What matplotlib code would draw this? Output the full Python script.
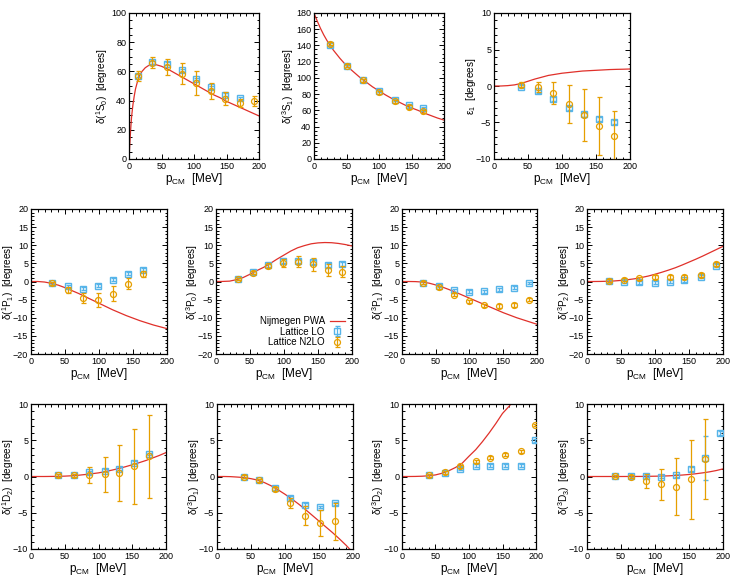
import matplotlib
matplotlib.use("Agg")
import matplotlib.pyplot as plt
from matplotlib.ticker import MultipleLocator

plt.rcParams["font.family"] = ["Liberation Sans", "DejaVu Sans"]
plt.rcParams["mathtext.default"] = "regular"

RED = "#e0302a"
BLUE = "#56b4e9"
ORANGE = "#e69f00"

# ---- 1S0
s10_cx = [0, 1, 2, 3, 4, 6, 8, 10, 13, 16, 20, 25, 30, 35, 40, 50, 60, 70, 80, 90,
          100, 110, 120, 130, 140, 150, 160, 170, 180, 190, 200]
s10_cy = [0, 8, 16, 23, 29, 37, 43, 48, 53, 57, 60, 62.5, 64, 64.7, 64.8, 63.5, 61.5,
          59, 56.5, 54, 51.5, 49, 46.5, 44, 42, 39.5, 37.5, 35.5, 33.5, 31.5, 29.5]
s10_lo_x = [14, 35, 58, 81, 103, 126, 148, 170]
s10_lo = [57, 66.4, 65.3, 60.7, 54.8, 49, 44, 41.5]
s10_lo_err = [1, 1, 1, 1, 1, 1, 1, 1]
s10_n2_x = [14, 35, 58, 81, 103, 126, 148, 170, 192]
s10_n2 = [56.6, 66, 63, 58.5, 52, 46.3, 41.3, 38.4, 39.5]
s10_n2_err = [3.5, 4, 5.5, 7, 8, 5.5, 4.5, 3, 3.5]

# ---- 3S1
s31_cx = [0, 5, 10, 15, 20, 25, 30, 40, 50, 60, 70, 80, 90, 100, 110, 120, 130, 140,
          150, 160, 170, 180, 190, 200]
s31_cy = [180, 170, 161, 153, 146, 140, 134, 124, 115, 108, 101, 95, 89, 84, 79, 74.5,
          70.5, 66.5, 63, 60, 56.5, 53.5, 50.5, 48]
s31_x = [25, 51, 76, 100, 124, 146, 168]
s31_lo = [141, 115, 97, 84, 73, 66, 63]
s31_lo_err = [1.5, 1.5, 1.5, 1.5, 1.5, 1.5, 1.5]
s31_n2 = [142, 115, 97, 82, 71, 64, 59]
s31_n2_err = [2, 2, 2, 2, 2, 2, 2]

# ---- eps1
e1_cx = [0, 10, 20, 30, 40, 50, 60, 70, 80, 90, 100, 110, 120, 130, 140, 150, 160,
         170, 180, 190, 200]
e1_cy = [0, 0, 0.05, 0.15, 0.35, 0.65, 0.95, 1.2, 1.45, 1.6, 1.75, 1.85, 1.95, 2.05,
         2.1, 2.15, 2.2, 2.25, 2.28, 2.3, 2.33]
e1_x = [40, 65, 87, 110, 133, 155, 176]
e1_lo = [-0.1, -0.7, -1.8, -3.0, -3.9, -4.5, -4.9]
e1_lo_err = [0.2, 0.2, 0.3, 0.3, 0.3, 0.3, 0.3]
e1_n2 = [0.2, -0.1, -1.0, -2.5, -4.0, -5.45, -6.8]
e1_n2_err = [0.3, 0.7, 1.5, 2.6, 3.6, 3.95, 3.4]

# ---- 1P1
p11_cx = [0, 10, 20, 30, 40, 50, 60, 70, 80, 90, 100, 110, 120, 130, 140, 150, 160,
          170, 180, 190, 200]
p11_cy = [0, 0, -0.15, -0.5, -1.0, -1.7, -2.5, -3.3, -4.2, -5.1, -6.0, -6.9, -7.8,
          -8.6, -9.4, -10.1, -10.8, -11.4, -12.0, -12.5, -13.0]
p11_x = [31, 54, 77, 99, 121, 143, 165]
p11_lo = [-0.4, -1.3, -2.0, -1.2, 0.5, 2.2, 3.3]
p11_lo_err = [0.4, 0.4, 0.4, 0.4, 0.4, 0.4, 0.4]
p11_n2 = [-0.5, -2.3, -4.5, -5.1, -3.4, -0.6, 2.0]
p11_n2_err = [0.4, 0.8, 1.3, 2.0, 2.1, 1.6, 0.8]

# ---- 3P0
p30_cx = [0, 10, 20, 30, 40, 50, 60, 70, 80, 90, 100, 110, 120, 130, 140, 150, 160,
          170, 180, 190, 200]
p30_cy = [0, 0.02, 0.1, 0.5, 1.1, 2.0, 3.0, 3.9, 5.0, 6.2, 7.3, 8.4, 9.3, 9.9, 10.4,
          10.65, 10.75, 10.7, 10.5, 10.2, 9.8]
p30_x = [32, 54, 76, 99, 121, 142, 164, 186]
p30_lo = [0.8, 2.5, 4.5, 5.6, 5.6, 5.3, 4.6, 4.8]
p30_lo_err = [0.4, 0.4, 0.4, 0.5, 0.5, 0.5, 0.5, 0.5]
p30_n2 = [0.7, 2.4, 4.4, 5.1, 5.5, 4.7, 3.1, 2.7]
p30_n2_err = [0.3, 0.4, 0.6, 1.0, 1.6, 1.7, 1.6, 1.5]

# ---- 3P1
p31_cx = [0, 10, 20, 30, 40, 50, 60, 70, 80, 90, 100, 110, 120, 130, 140, 150, 160,
          170, 180, 190, 200]
p31_cy = [0, 0, -0.03, -0.15, -0.45, -0.95, -1.55, -2.25, -3.0, -3.8, -4.6, -5.4,
          -6.2, -7.0, -7.8, -8.6, -9.3, -10.0, -10.6, -11.2, -11.8]
p31_x = [31, 55, 77, 100, 122, 144, 166, 188]
p31_lo = [-0.3, -1.2, -2.4, -2.8, -2.7, -2.1, -1.7, -0.4]
p31_lo_err = [0.4, 0.4, 0.4, 0.4, 0.4, 0.4, 0.4, 0.4]
p31_n2 = [-0.3, -1.6, -3.6, -5.5, -6.6, -6.8, -6.4, -5.0]
p31_n2_err = [0.4, 0.4, 0.5, 0.5, 0.5, 0.5, 0.5, 0.5]

# ---- 3P2
p32_cx = [0, 10, 20, 30, 40, 50, 60, 70, 80, 90, 100, 110, 120, 130, 140, 150, 160,
          170, 180, 190, 200]
p32_cy = [0, 0, 0.02, 0.07, 0.15, 0.3, 0.5, 0.75, 1.1, 1.5, 2.0, 2.55, 3.15, 3.8,
          4.55, 5.35, 6.15, 7.0, 7.9, 8.8, 9.7]
p32_x = [32, 55, 77, 100, 122, 143, 167, 189]
p32_lo = [0.1, 0.0, -0.2, -0.3, -0.1, 0.4, 1.3, 4.3]
p32_lo_err = [0.4, 0.4, 0.4, 0.4, 0.4, 0.4, 0.4, 0.4]
p32_n2 = [0.2, 0.5, 0.9, 1.3, 1.2, 1.2, 1.8, 4.8]
p32_n2_err = [0.4, 0.4, 0.4, 0.5, 0.5, 0.5, 0.5, 0.5]

# ---- 1D2
d12_cx = [0, 20, 40, 50, 60, 70, 80, 90, 100, 110, 120, 130, 140, 150, 160, 170, 180,
          190, 200]
d12_cy = [0, 0, 0.02, 0.05, 0.1, 0.17, 0.27, 0.38, 0.5, 0.68, 0.88, 1.1, 1.35, 1.62,
          1.9, 2.2, 2.55, 2.9, 3.3]
d12_x = [40, 64, 86, 109, 131, 153, 175]
d12_lo = [0.15, 0.2, 0.6, 0.8, 1.1, 1.9, 3.1]
d12_lo_err = [0.2, 0.2, 0.2, 0.2, 0.2, 0.2, 0.2]
d12_n2 = [0.15, 0.2, 0.2, 0.3, 0.5, 1.4, 2.8]
d12_n2_err = [0.15, 0.2, 1.1, 2.4, 3.9, 5.2, 5.7]

# ---- 3D1
d31_cx = [0, 10, 20, 30, 40, 50, 60, 70, 80, 90, 100, 110, 120, 130, 140, 150, 160,
          170, 180, 190, 195]
d31_cy = [0, 0, -0.02, -0.08, -0.15, -0.3, -0.5, -0.85, -1.3, -1.85, -2.45, -3.1,
          -3.8, -4.55, -5.35, -6.15, -6.95, -7.75, -8.6, -9.5, -10.0]
d31_x = [39, 62, 85, 108, 130, 152, 174]
d31_lo = [0.0, -0.5, -1.6, -2.9, -3.9, -4.2, -3.7]
d31_lo_err = [0.2, 0.2, 0.2, 0.2, 0.2, 0.2, 0.2]
d31_n2 = [0.0, -0.55, -1.7, -3.6, -5.4, -6.4, -6.2]
d31_n2_err = [0.15, 0.2, 0.3, 0.7, 1.3, 1.8, 2.5]

# ---- 3D2
d32_cx = [0, 10, 20, 30, 40, 50, 60, 70, 80, 90, 100, 110, 120, 130, 140, 150, 160, 165]
d32_cy = [0, 0, 0.01, 0.04, 0.1, 0.22, 0.45, 0.8, 1.25, 1.85, 2.8, 3.7, 4.8, 6.0, 7.3,
          8.7, 9.7, 10.3]
d32_x = [40, 64, 87, 110, 132, 154, 177, 199]
d32_lo = [0.15, 0.55, 1.1, 1.5, 1.5, 1.5, 1.5, 5.0]
d32_lo_err = [0.2, 0.2, 0.2, 0.2, 0.2, 0.2, 0.2, 0.2]
d32_n2 = [0.15, 0.6, 1.4, 2.1, 2.6, 3.0, 3.5, 7.1]
d32_n2_err = [0.2, 0.2, 0.2, 0.2, 0.2, 0.2, 0.2, 0.2]

# ---- 3D3
d33_cx = [0, 50, 80, 100, 110, 120, 130, 140, 150, 160, 170, 180, 190, 200]
d33_cy = [0, 0, 0.01, 0.04, 0.06, 0.09, 0.14, 0.2, 0.28, 0.38, 0.5, 0.64, 0.82, 1.05]
d33_lo_x = [41, 64, 87, 109, 131, 153, 174, 196]
d33_lo = [0.1, 0.05, 0.05, -0.05, 0.2, 1.0, 2.5, 6.0]
d33_lo_err = [0.15, 0.15, 0.15, 0.15, 0.2, 0.3, 3.05, 0.3]
d33_n2_x = [41, 64, 87, 109, 131, 153, 174]
d33_n2 = [0.1, 0.0, -0.6, -1.1, -1.4, -0.4, 2.4]
d33_n2_err = [0.15, 0.15, 1.0, 2.2, 3.9, 5.4, 5.5]

# (label, curve, LO, N2LO, ylim, ymajor, yminor, pixel box left/right/top/bottom)
panels = [
    (r"$\delta$($^1$S$_0$)  [degrees]", (s10_cx, s10_cy), (s10_lo_x, s10_lo, s10_lo_err),
     (s10_n2_x, s10_n2, s10_n2_err), (0, 100), 20, 5, (129, 259, 13, 159)),
    (r"$\delta$($^3$S$_1$)  [degrees]", (s31_cx, s31_cy), (s31_x, s31_lo, s31_lo_err),
     (s31_x, s31_n2, s31_n2_err), (0, 180), 20, 5, (314, 444, 13, 159)),
    (r"$\varepsilon_1$  [degrees]", (e1_cx, e1_cy), (e1_x, e1_lo, e1_lo_err),
     (e1_x, e1_n2, e1_n2_err), (-10, 10), 5, 1, (494, 630, 13, 159)),
    (r"$\delta$($^1$P$_1$)  [degrees]", (p11_cx, p11_cy), (p11_x, p11_lo, p11_lo_err),
     (p11_x, p11_n2, p11_n2_err), (-20, 20), 5, 1, (31, 167, 209, 354)),
    (r"$\delta$($^3$P$_0$)  [degrees]", (p30_cx, p30_cy), (p30_x, p30_lo, p30_lo_err),
     (p30_x, p30_n2, p30_n2_err), (-20, 20), 5, 1, (216, 352, 209, 354)),
    (r"$\delta$($^3$P$_1$)  [degrees]", (p31_cx, p31_cy), (p31_x, p31_lo, p31_lo_err),
     (p31_x, p31_n2, p31_n2_err), (-20, 20), 5, 1, (402, 537, 209, 354)),
    (r"$\delta$($^3$P$_2$)  [degrees]", (p32_cx, p32_cy), (p32_x, p32_lo, p32_lo_err),
     (p32_x, p32_n2, p32_n2_err), (-20, 20), 5, 1, (587, 723, 209, 354)),
    (r"$\delta$($^1$D$_2$)  [degrees]", (d12_cx, d12_cy), (d12_x, d12_lo, d12_lo_err),
     (d12_x, d12_n2, d12_n2_err), (-10, 10), 5, 1, (31, 166, 404, 549)),
    (r"$\delta$($^3$D$_1$)  [degrees]", (d31_cx, d31_cy), (d31_x, d31_lo, d31_lo_err),
     (d31_x, d31_n2, d31_n2_err), (-10, 10), 5, 1, (217, 353, 404, 549)),
    (r"$\delta$($^3$D$_2$)  [degrees]", (d32_cx, d32_cy), (d32_x, d32_lo, d32_lo_err),
     (d32_x, d32_n2, d32_n2_err), (-10, 10), 5, 1, (402, 536, 404, 549)),
    (r"$\delta$($^3$D$_3$)  [degrees]", (d33_cx, d33_cy), (d33_lo_x, d33_lo, d33_lo_err),
     (d33_n2_x, d33_n2, d33_n2_err), (-10, 10), 5, 1, (587, 723, 404, 549)),
]

W, H = 737, 580
fig = plt.figure(figsize=(W / 100, H / 100), dpi=100)

for i, (ylab, curve, lo, n2, ylim, ymaj, ymin, box) in enumerate(panels):
    l, r, t, b = box
    ax = fig.add_axes([l / W, 1 - b / H, (r - l) / W, (b - t) / H])
    ax.plot(curve[0], curve[1], color=RED, lw=0.9, label="Nijmegen PWA", zorder=2)
    ax.errorbar(lo[0], lo[1], yerr=lo[2], fmt="s", ms=4.3, mfc="none", mec=BLUE,
                mew=1.0, ecolor=BLUE, elinewidth=0.9, capsize=1.8, label="Lattice LO",
                zorder=3)
    ax.errorbar(n2[0], n2[1], yerr=n2[2], fmt="o", ms=4.3, mfc="none", mec=ORANGE,
                mew=0.9, ecolor=ORANGE, elinewidth=0.9, capsize=1.8,
                label="Lattice N2LO", zorder=4)
    ax.set_xlim(0, 200)
    ax.set_ylim(*ylim)
    ax.xaxis.set_major_locator(MultipleLocator(50))
    ax.xaxis.set_minor_locator(MultipleLocator(10))
    ax.yaxis.set_major_locator(MultipleLocator(ymaj))
    ax.yaxis.set_minor_locator(MultipleLocator(ymin))
    ax.tick_params(which="both", direction="in", top=True, right=True, labelsize=6.5,
                   width=0.7, pad=2)
    ax.tick_params(which="major", length=3.5)
    ax.tick_params(which="minor", length=1.8)
    for sp in ax.spines.values():
        sp.set_linewidth(0.9)
    ax.set_xlabel(r"p$_{CM}$  [MeV]", fontsize=8.5, labelpad=0.5)
    ax.set_ylabel(ylab, fontsize=7.2)
    # put the y label a fixed pixel distance left of the frame
    off = 18.5 if ylim[1] >= 100 else 15.5
    ax.yaxis.set_label_coords(-off / (r - l), 0.5)
    if i == 4:
        ax.legend(loc="lower right", frameon=False, markerfirst=False, fontsize=7,
                  handlelength=1.6, borderaxespad=0.3, labelspacing=0.05,
                  handletextpad=0.5)

fig.savefig("out.png", dpi=100)
